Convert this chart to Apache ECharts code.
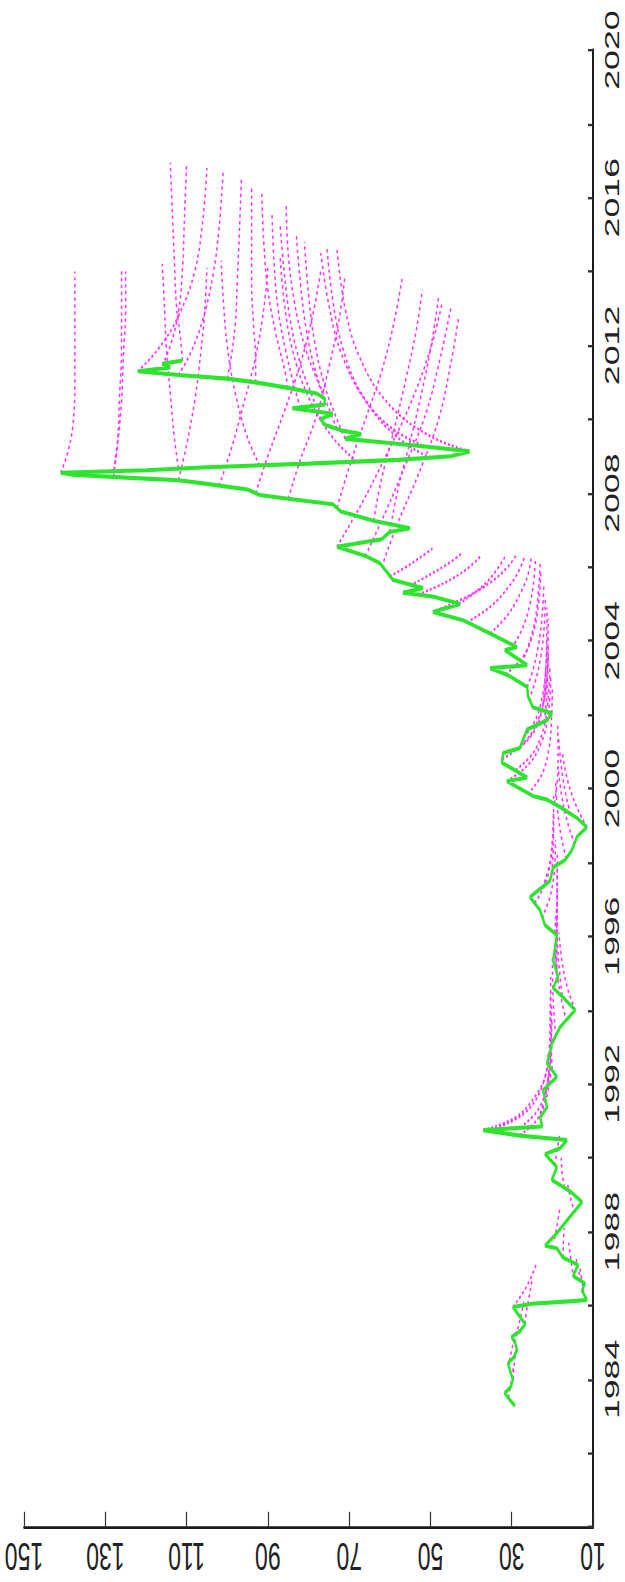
<!DOCTYPE html>
<html>
<head>
<meta charset="utf-8">
<script src="https://cdn.jsdelivr.net/npm/echarts@6/dist/echarts.min.js"></script>
<style>
  html, body { margin: 0; padding: 0; background: #fff; width: 625px; height: 1582px; }
  /* the figure is drawn at 625x930 and stretched tall to fill the page */
  #chart { width: 625px; height: 930px; transform-origin: 0 0; transform: scale(1, 1.7011); }
</style>
</head>
<body>
<div id="chart"></div>
<script>
// Spot price history: [year, price]
const actualPrices = [
  [1983.28, 29.2], [1983.45, 30.5], [1983.63, 31.7], [1983.8, 30.2], [1984.0, 29.7],
  [1984.2, 30.3], [1984.44, 30.9], [1984.6, 29.5], [1984.8, 28.7], [1985.0, 29.2],
  [1985.15, 30.0], [1985.3, 28.0], [1985.5, 26.7], [1985.7, 28.0], [1985.96, 29.7],
  [1986.05, 25.0], [1986.12, 15.0], [1986.15, 11.5], [1986.4, 12.7], [1986.6, 12.0],
  [1986.8, 14.9], [1987.1, 13.7], [1987.3, 17.4], [1987.55, 18.9], [1987.62, 21.8],
  [1987.96, 18.9], [1988.4, 15.7], [1988.8, 12.7], [1989.1, 15.7], [1989.4, 20.1],
  [1989.75, 18.9], [1990.1, 21.8], [1990.26, 18.1], [1990.48, 16.4], [1990.6, 28.0],
  [1990.75, 37.0], [1990.85, 22.5], [1991.1, 23.0], [1991.37, 21.3], [1991.83, 22.3],
  [1992.19, 18.9], [1992.56, 21.3], [1993.1, 20.1], [1993.54, 18.1], [1994.0, 14.4],
  [1994.35, 17.4], [1994.6, 19.8], [1994.9, 18.6], [1995.35, 19.8], [1996.03, 18.9],
  [1996.3, 21.8], [1996.7, 23.0], [1997.06, 25.5], [1997.5, 20.6], [1997.87, 19.8],
  [1998.06, 16.9], [1998.33, 15.2], [1998.7, 13.9], [1998.95, 11.5], [1999.2, 13.9],
  [1999.5, 18.1], [1999.7, 21.3], [1999.8, 24.8], [2000.2, 31.2], [2000.3, 26.2],
  [2000.7, 32.4], [2000.96, 32.1], [2001.1, 28.0], [2001.6, 26.2], [2001.85, 21.3],
  [2002.04, 20.1], [2002.2, 24.8], [2002.5, 26.0], [2002.75, 26.2], [2003.07, 30.9],
  [2003.26, 35.3], [2003.34, 26.2], [2003.75, 31.7], [2003.83, 28.7], [2004.2, 35.3],
  [2004.56, 42.0], [2004.78, 49.4], [2005.0, 42.7], [2005.2, 49.4], [2005.3, 56.8],
  [2005.43, 51.8], [2005.65, 59.2], [2006.1, 62.4], [2006.3, 66.0], [2006.55, 73.0],
  [2006.75, 62.0], [2006.95, 60.0], [2007.05, 55.0], [2007.25, 64.0], [2007.5, 72.0],
  [2007.7, 74.0], [2007.85, 85.0], [2007.95, 92.0], [2008.1, 95.0], [2008.25, 105.0],
  [2008.35, 112.0], [2008.42, 125.0], [2008.5, 138.0], [2008.55, 141.0], [2008.62, 120.0],
  [2008.7, 105.0], [2008.8, 80.0], [2008.9, 58.0], [2009.0, 45.0], [2009.13, 40.4],
  [2009.25, 50.0], [2009.38, 62.0], [2009.47, 71.0], [2009.6, 67.0], [2009.7, 72.0],
  [2009.85, 76.0], [2010.0, 77.0], [2010.15, 74.0], [2010.3, 84.0], [2010.4, 76.0],
  [2010.55, 76.0], [2010.7, 78.0], [2010.85, 85.0], [2011.0, 93.0], [2011.1, 100.0],
  [2011.2, 112.0], [2011.3, 122.0], [2011.4, 114.0], [2011.5, 116.0], [2011.59, 111.0]
];

// Forward curves quoted on successive dates: each is a list of [year, price]
const forwardCurves1980s = [
  [[1983.5, 30.8], [1983.9, 30.2], [1984.3, 29.6]],
  [[1984.0, 29.7], [1984.4, 29.4], [1984.8, 28.9]],
  [[1984.5, 30.6], [1984.9, 29.8], [1985.3, 29.0]],
  [[1985.0, 29.2], [1985.4, 28.4], [1985.8, 27.6], [1986.1, 27.0]],
  [[1985.5, 26.7], [1985.9, 26.3], [1986.3, 25.6], [1986.7, 25.0]],
  [[1985.96, 29.7], [1986.3, 27.5], [1986.7, 25.5], [1987.1, 24.0]],
  [[1986.2, 12.0], [1986.6, 12.6], [1987.0, 13.2]],
  [[1986.5, 12.4], [1986.9, 13.5], [1987.3, 14.2]],
  [[1986.9, 15.0], [1987.3, 15.5], [1987.7, 16.0]],
  [[1987.3, 17.4], [1987.7, 17.3], [1988.1, 17.1]],
  [[1987.8, 19.5], [1988.2, 18.8], [1988.6, 18.2]],
  [[1988.5, 14.5], [1988.9, 15.5], [1989.3, 16.3]],
  [[1989.2, 17.0], [1989.6, 17.6], [1990.0, 17.8]],
  [[1989.8, 19.5], [1990.2, 18.8], [1990.6, 18.3]],
  [[1990.62, 28.0], [1991.0, 24.0], [1991.6, 21.5], [1992.3, 20.5]],
  [[1990.75, 37.0], [1991.1, 29.0], [1991.7, 24.0], [1992.3, 21.5], [1992.9, 21.0]],
  [[1990.8, 34.0], [1991.2, 27.0], [1991.8, 23.0], [1992.6, 21.0]],
  [[1990.9, 27.0], [1991.3, 23.5], [1991.9, 21.5], [1992.7, 20.5]]
];

const forwardCurves1990s = [
  [[1991.2, 23.0], [1991.8, 21.5], [1992.5, 20.5], [1993.3, 20.0]],
  [[1991.6, 21.8], [1992.2, 21.0], [1992.9, 20.4], [1993.7, 20.1]],
  [[1992.0, 20.5], [1992.6, 20.4], [1993.3, 20.3], [1994.1, 20.2]],
  [[1992.4, 20.0], [1993.0, 20.3], [1993.7, 20.4], [1994.5, 20.4]],
  [[1992.8, 20.8], [1993.4, 20.6], [1994.1, 20.5], [1994.9, 20.4]],
  [[1993.3, 19.2], [1993.9, 19.6], [1994.6, 19.9], [1995.4, 20.0]],
  [[1993.7, 16.5], [1994.3, 17.8], [1995.0, 18.8], [1995.8, 19.3]],
  [[1994.0, 14.4], [1994.6, 16.3], [1995.3, 17.6], [1996.1, 18.4]],
  [[1994.4, 17.6], [1995.0, 18.2], [1995.7, 18.7], [1996.5, 19.0]],
  [[1994.8, 19.0], [1995.4, 18.9], [1996.1, 18.9], [1996.9, 18.9]],
  [[1995.2, 19.4], [1995.8, 19.0], [1996.5, 18.8], [1997.3, 18.8]],
  [[1995.7, 19.4], [1996.3, 19.0], [1997.0, 18.8], [1997.8, 18.8]],
  [[1996.1, 19.5], [1996.7, 19.0], [1997.4, 18.8], [1998.2, 18.8]],
  [[1996.5, 22.5], [1997.1, 20.5], [1997.8, 19.5], [1998.6, 19.2]],
  [[1996.9, 24.3], [1997.5, 21.5], [1998.2, 20.2], [1999.0, 19.7]],
  [[1997.3, 22.5], [1997.9, 20.8], [1998.6, 20.0], [1999.4, 19.7]],
  [[1997.7, 20.2], [1998.3, 19.8], [1999.0, 19.7], [1999.8, 19.7]],
  [[1998.1, 16.6], [1998.7, 17.8], [1999.4, 18.7], [2000.2, 19.2]],
  [[1998.5, 14.5], [1999.1, 16.3], [1999.8, 17.7], [2000.6, 18.6]],
  [[1998.95, 11.5], [1999.5, 14.0], [2000.2, 16.2], [2001.0, 17.6]],
  [[1999.3, 15.5], [1999.9, 16.8], [2000.6, 17.8], [2001.4, 18.5]],
  [[1999.6, 19.5], [2000.2, 18.8], [2000.9, 18.6], [2001.7, 18.7]]
];

const forwardCurves2000s = [
  [[1999.85, 26.0], [2000.4, 22.5], [2001.1, 20.8], [2001.9, 20.2], [2002.7, 20.0]],
  [[2000.2, 31.2], [2000.7, 25.5], [2001.4, 22.2], [2002.2, 20.8], [2003.0, 20.4]],
  [[2000.5, 29.0], [2001.0, 24.5], [2001.7, 22.0], [2002.5, 21.0], [2003.3, 20.6]],
  [[2000.8, 32.3], [2001.3, 26.5], [2002.0, 23.0], [2002.8, 21.5], [2003.6, 21.0]],
  [[2001.1, 28.0], [2001.6, 24.2], [2002.3, 22.2], [2003.1, 21.3], [2003.9, 21.0]],
  [[2001.4, 27.0], [2001.9, 24.0], [2002.6, 22.3], [2003.4, 21.5], [2004.2, 21.2]],
  [[2001.8, 22.0], [2002.3, 21.5], [2003.0, 21.2], [2003.8, 21.1], [2004.6, 21.0]],
  [[2002.1, 22.5], [2002.6, 22.0], [2003.3, 21.6], [2004.1, 21.4], [2004.9, 21.3]],
  [[2002.4, 25.8], [2002.9, 24.2], [2003.6, 22.8], [2004.4, 22.0], [2005.2, 21.7]],
  [[2002.75, 26.2], [2003.2, 24.8], [2003.9, 23.4], [2004.7, 22.5], [2005.5, 22.1]],
  [[2003.1, 31.5], [2003.6, 27.0], [2004.3, 24.5], [2005.1, 23.3], [2005.9, 22.8]],
  [[2003.4, 27.5], [2003.9, 25.8], [2004.6, 24.2], [2005.4, 23.4], [2006.1, 23.0]],
  [[2003.8, 30.0], [2004.3, 27.5], [2005.0, 25.5], [2005.7, 24.5], [2006.2, 24.2]],
  [[2004.2, 35.3], [2004.7, 31.0], [2005.3, 27.8], [2005.8, 26.0], [2006.25, 25.2]],
  [[2004.5, 41.0], [2004.95, 35.0], [2005.5, 30.5], [2005.95, 28.0], [2006.3, 26.8]],
  [[2004.78, 49.4], [2005.2, 41.0], [2005.6, 35.0], [2006.0, 31.0], [2006.3, 29.0]],
  [[2005.0, 43.0], [2005.4, 38.0], [2005.8, 34.5], [2006.3, 31.5]],
  [[2005.25, 53.0], [2005.6, 46.0], [2005.95, 41.0], [2006.3, 37.5]],
  [[2005.5, 55.0], [2005.8, 50.0], [2006.1, 45.5], [2006.35, 42.5]],
  [[2005.75, 60.0], [2006.0, 56.0], [2006.3, 52.0], [2006.5, 49.5]],
  [[2006.0, 62.0], [2007.2, 58.0], [2008.5, 53.0], [2010.0, 48.0], [2011.5, 45.0], [2012.8, 43.0]],
  [[2006.3, 66.0], [2007.5, 61.0], [2008.8, 56.0], [2010.2, 51.0], [2011.7, 47.5], [2013.0, 45.0]],
  [[2006.55, 73.0], [2007.7, 67.0], [2009.0, 61.0], [2010.4, 55.0], [2011.9, 50.0], [2013.2, 47.0]],
  [[2006.95, 60.0], [2008.1, 58.0], [2009.4, 55.0], [2010.8, 52.0], [2012.2, 49.5], [2013.3, 48.0]],
  [[2007.25, 64.0], [2008.4, 62.0], [2009.7, 59.0], [2011.1, 56.0], [2012.4, 53.5], [2013.5, 52.0]],
  [[2007.6, 73.0], [2008.7, 70.0], [2010.0, 66.0], [2011.3, 62.0], [2012.6, 59.0], [2013.8, 57.0]],
  [[2007.85, 85.0], [2008.9, 82.0], [2010.1, 78.0], [2011.4, 75.0], [2012.7, 72.5], [2013.9, 71.0]],
  [[2008.0, 93.0], [2009.0, 90.0], [2010.2, 86.0], [2011.5, 82.0], [2012.8, 79.0], [2014.0, 77.0]],
  [[2008.2, 102.0], [2009.2, 99.0], [2010.4, 96.0], [2011.7, 93.0], [2013.0, 91.0], [2014.1, 90.0]],
  [[2008.35, 112.0], [2009.3, 110.0], [2010.5, 108.0], [2011.8, 106.5], [2013.0, 105.5], [2014.1, 105.0]],
  [[2008.45, 128.0], [2009.3, 127.0], [2010.5, 126.0], [2011.8, 125.5], [2013.0, 125.0], [2014.0, 125.0]],
  [[2008.55, 141.0], [2009.0, 139.5], [2009.8, 138.0], [2011.0, 137.5], [2012.5, 137.5], [2014.0, 137.5]],
  [[2008.6, 128.0], [2009.4, 127.0], [2010.6, 126.5], [2011.9, 126.0], [2013.1, 126.0], [2014.1, 126.0]],
  [[2008.67, 112.0], [2009.5, 113.0], [2010.7, 114.0], [2012.0, 115.0], [2013.2, 115.5], [2014.2, 116.0]],
  [[2008.75, 92.0], [2009.5, 95.0], [2010.7, 98.0], [2012.0, 100.0], [2013.3, 101.0], [2014.3, 101.5]],
  [[2008.85, 68.0], [2009.5, 74.0], [2010.6, 80.0], [2011.9, 84.0], [2013.2, 86.0], [2014.4, 87.0]],
  [[2008.95, 50.0], [2009.5, 58.0], [2010.5, 66.0], [2011.8, 72.0], [2013.1, 75.0], [2014.5, 77.0]],
  [[2009.13, 40.4], [2009.6, 51.0], [2010.5, 61.0], [2011.7, 67.5], [2013.0, 71.0], [2014.6, 73.0]],
  [[2009.3, 52.0], [2009.8, 60.0], [2010.7, 67.0], [2011.9, 71.5], [2013.2, 74.0], [2014.7, 75.5]],
  [[2009.47, 71.0], [2010.0, 73.0], [2010.9, 76.0], [2012.1, 78.5], [2013.4, 80.0], [2014.8, 81.0]],
  [[2009.75, 73.0], [2010.3, 75.0], [2011.2, 78.0], [2012.4, 80.5], [2013.7, 82.0], [2015.0, 83.0]],
  [[2010.0, 77.0], [2010.6, 79.0], [2011.5, 82.0], [2012.7, 84.5], [2014.0, 86.0], [2015.3, 87.0]],
  [[2010.3, 82.0], [2010.9, 83.5], [2011.8, 85.5], [2013.0, 87.5], [2014.3, 88.5], [2015.6, 89.0]],
  [[2010.55, 76.0], [2011.1, 78.0], [2012.0, 81.0], [2013.2, 83.5], [2014.5, 85.0], [2015.8, 85.5]],
  [[2010.85, 85.0], [2011.4, 86.0], [2012.3, 88.0], [2013.5, 90.0], [2014.8, 91.0], [2016.1, 91.5]],
  [[2011.0, 93.0], [2011.6, 93.0], [2012.5, 93.5], [2013.7, 94.0], [2015.0, 94.0], [2016.3, 94.0]],
  [[2011.1, 100.0], [2011.7, 99.0], [2012.6, 98.0], [2013.8, 97.5], [2015.1, 97.0], [2016.5, 96.5]],
  [[2011.2, 112.0], [2011.8, 109.0], [2012.7, 106.0], [2013.9, 103.5], [2015.2, 102.0], [2016.7, 101.0]],
  [[2011.3, 122.0], [2011.9, 117.0], [2012.8, 112.0], [2014.0, 108.0], [2015.4, 106.0], [2016.8, 105.0]],
  [[2011.45, 116.0], [2012.0, 114.0], [2012.9, 112.0], [2014.1, 111.0], [2015.5, 110.5], [2016.9, 110.0]],
  [[2011.59, 111.0], [2012.2, 111.5], [2013.1, 112.5], [2014.3, 113.0], [2015.6, 113.5], [2016.95, 114.0]]
];

// Axis ranges and tick spacing
const priceMin = 10, priceMax = 150, priceStep = 20;
const yearMin = 1980, yearMax = 2020, yearTickStep = 2, yearLabelStep = 4;

// Sideways layout: price runs right-to-left along the bottom,
// time runs bottom-to-top along the right edge.
const toPoint = ([year, price]) => [price, year];

const allCurves = [...forwardCurves1980s, ...forwardCurves1990s, ...forwardCurves2000s];
const curveSeries = allCurves.map(curve => ({
  type: 'line',
  data: curve.map(toPoint),
  smooth: 0.4,
  showSymbol: false,
  silent: true,
  lineStyle: { color: '#ff33ff', width: 1.5, type: [2, 2] },
  z: 2
}));

const spotSeries = {
  type: 'line',
  data: actualPrices.map(toPoint),
  showSymbol: false,
  silent: true,
  lineStyle: { color: '#2ee42e', width: 2.4 },
  z: 3
};

const chart = echarts.init(document.getElementById('chart'), null, { renderer: 'svg', width: 625, height: 930 });
chart.setOption({
  animation: false,
  backgroundColor: '#ffffff',
  grid: { left: 24, right: 32, top: 29.4, bottom: 32.3, containLabel: false },
  xAxis: {
    type: 'value',
    min: priceMin, max: priceMax, interval: priceStep,
    inverse: true,
    position: 'bottom',
    axisLine: { lineStyle: { color: '#1a1a1a', width: 1.6 } },
    axisTick: { inside: true, length: 9, lineStyle: { color: '#333', width: 1.2 } },
    axisLabel: {
      rotate: 180, margin: 6,
      fontFamily: 'Liberation Sans, Arial, sans-serif', fontSize: 23, color: '#222'
    },
    splitLine: { show: false }
  },
  yAxis: {
    type: 'value',
    min: yearMin, max: yearMax, interval: yearTickStep,
    position: 'right',
    axisLine: { lineStyle: { color: '#1a1a1a', width: 2 } },
    axisTick: { inside: true, length: 5, lineStyle: { color: '#333', width: 1.4 } },
    axisLabel: {
      rotate: 90, margin: 8,
      fontFamily: 'Liberation Sans, Arial, sans-serif', fontSize: 21, color: '#222',
      formatter: v => (v > yearMin && (v - yearMin) % yearLabelStep === 0) ? String(v) : ''
    },
    splitLine: { show: false }
  },
  series: [...curveSeries, spotSeries]
});
</script>
</body>
</html>
